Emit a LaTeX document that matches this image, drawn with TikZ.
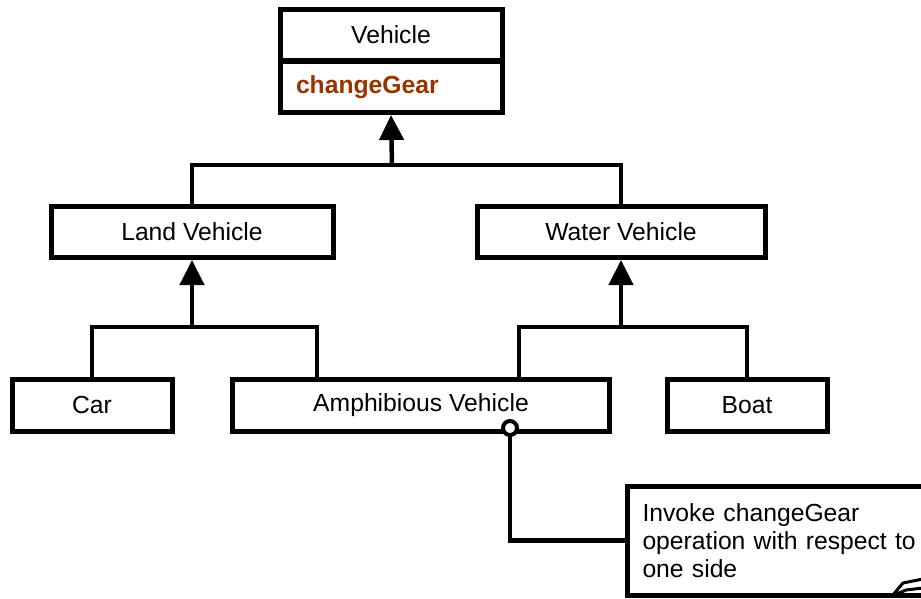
\documentclass[tikz,border=0pt]{standalone}
\usepackage{fontspec}
\setmainfont{Liberation Sans}
\usetikzlibrary{arrows.meta}
\usetikzlibrary{positioning}

\definecolor{opcolor}{RGB}{153,51,0}

\begin{document}
\begin{tikzpicture}[x=1pt,y=-1pt,line width=4.5pt,
    cls/.style={draw,line width=5pt,minimum height=51pt,inner sep=0pt,
        font=\fontsize{24.7}{28}\selectfont},
    inh/.style={-{Triangle[width=24pt,length=25pt]}}]
            \useasboundingbox (0,0) rectangle (921,598);

            \node[cls,minimum width=222pt] (vehicle) at (391,35) {Vehicle};
            \node[cls,text width=190pt,inner xsep=16pt,align=left,
                font=\fontsize{24.7}{28}\selectfont\bfseries,text=opcolor] (gears) at (391,87) {changeGear};
            \node[cls,minimum width=282pt] (land) at (192,232) {Land Vehicle};
            \node[cls,minimum width=288pt] (water) at (621,232) {Water Vehicle};
            \node[cls,minimum width=160pt,minimum height=52pt] (car) at (92,405) {Car};
            \node[cls,minimum width=377pt,minimum height=52pt] (amphibious) at (421,405) {Amphibious Vehicle};
            \node[cls,minimum width=160pt,minimum height=52pt] (boat) at (747,405) {Boat};
            \node[draw,line width=5pt,anchor=west,minimum height=109pt,text width=280pt,inner xsep=15pt,align=left,
                font=\fontsize{24.7}{28}\selectfont] (note) at (625,540.5) {Invoke changeGear\\operation with respect to\\one side};

            \coordinate (topjoin) at (392,165);
            \coordinate (landjoin) at (192,327);
            \coordinate (waterjoin) at (621,327);

            \draw (land.north) |- (topjoin) -| (water.north);
            \draw[inh] (topjoin) -- (gears.south);
            \draw (car.north) |- (landjoin) -| ([xshift=87pt]amphibious.north west);
            \draw[inh] (landjoin) -- (land.south);
            \draw ([xshift=-93pt]amphibious.north east) |- (waterjoin) -| (boat.north);
            \draw[inh] (waterjoin) -- (water.south);

            % note hook
            \node[circle,minimum size=14pt,inner sep=0pt] (hook) at (510,428) {};
            \draw (hook.center) |- (note.west);
            \node[circle,draw,fill=white,line width=4pt,minimum size=14pt,inner sep=0pt] at (hook) {};
            \draw[line width=3pt,line join=round,fill=white] (892,596) -- (903,583) -- (923,579) -- (923,588) -- (906,590) -- cycle;
        \end{tikzpicture}
\end{document}
